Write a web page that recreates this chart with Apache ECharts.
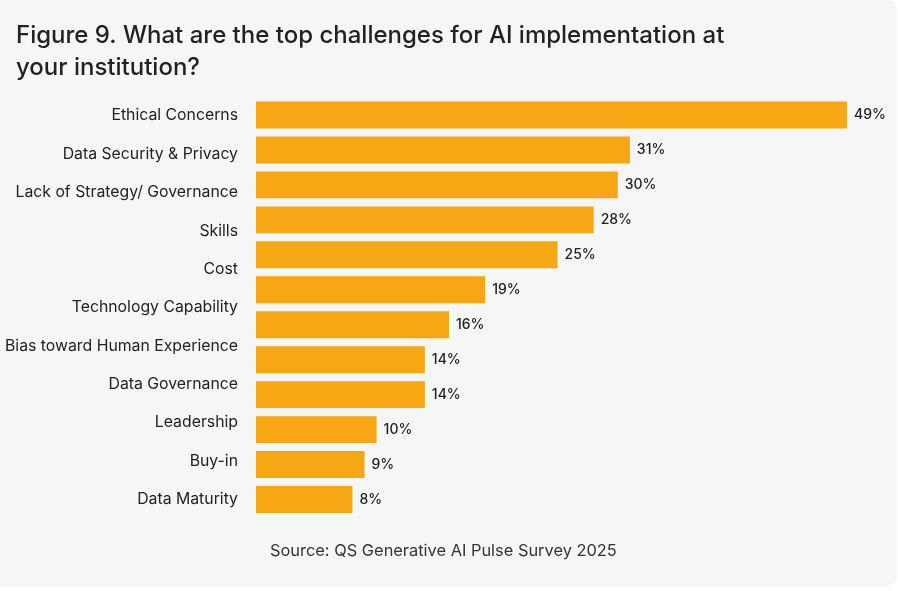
<!DOCTYPE html>
<html>
<head>
<meta charset="utf-8">
<script src="https://cdn.jsdelivr.net/npm/echarts@6/dist/echarts.min.js"></script>
<style>
  html, body { margin: 0; padding: 0; background: #ffffff; }
  #chart {
    width: 897px;
    height: 586px;
    background: #f5f7f7;
    border-radius: 0 10px 10px 0;
  }
</style>
</head>
<body>
<div id="chart"></div>
<script>
// the source figure shows 12 bars but only 11 category labels
const labels = [
  'Ethical Concerns',
  'Data Security & Privacy',
  'Lack of Strategy/ Governance',
  'Skills',
  'Cost',
  'Technology Capability',
  'Bias toward Human Experience',
  'Data Governance',
  'Leadership',
  'Buy-in',
  'Data Maturity'
];
const values = [49, 31, 30, 28, 25, 19, 16, 14, 14, 10, 9, 8];
const barSlots = values.map((v, i) => 'bar' + (i + 1));

const titleText = 'Figure 9. What are the top challenges for AI implementation at\nyour institution?';
const sourceText = 'Source: QS Generative AI Pulse Survey 2025';

const font = 'Inter, "Noto Sans", sans-serif';

const chart = echarts.init(document.getElementById('chart'), null, { renderer: 'canvas' });

chart.setOption({
  backgroundColor: 'transparent',
  animation: false,
  textStyle: { fontFamily: font },
  title: [
    {
      text: titleText,
      left: 16,
      top: 20,
      padding: 0,
      textStyle: {
        fontFamily: font,
        fontSize: 24,
        fontWeight: 500,
        lineHeight: 32,
        color: '#222222'
      }
    },
    {
      text: sourceText,
      left: 270,
      top: 541,
      padding: 0,
      textStyle: {
        fontFamily: font,
        fontSize: 16.4,
        lineHeight: 20,
        fontWeight: 400,
        color: '#333333'
      }
    }
  ],
  grid: [
    { left: 256, top: 97.5, width: 603, height: 419.5 },
    { left: 256, top: 115.7, width: 603, height: 383.5 }
  ],
  xAxis: [
    { type: 'value', gridIndex: 0, min: 0, max: 50, show: false },
    { type: 'value', gridIndex: 1, min: 0, max: 50, show: false }
  ],
  yAxis: [
    {
      type: 'category',
      gridIndex: 0,
      data: barSlots,
      inverse: true,
      axisLine: { show: false },
      axisTick: { show: false },
      axisLabel: { show: false },
      splitLine: { show: false }
    },
    {
      type: 'category',
      gridIndex: 1,
      data: labels,
      inverse: true,
      boundaryGap: false,
      axisLine: { show: false },
      axisTick: { show: false },
      splitLine: { show: false },
      axisLabel: {
        margin: 18,
        fontFamily: font,
        fontSize: 15.8,
        color: '#222222'
      }
    }
  ],
  series: [
    {
      type: 'bar',
      xAxisIndex: 0,
      yAxisIndex: 0,
      data: values,
      barCategoryGap: '23%',
      itemStyle: { color: '#f6a713' },
      label: {
        show: true,
        position: 'right',
        distance: 7,
        formatter: '{c}%',
        fontFamily: font,
        fontSize: 14,
        fontWeight: 500,
        color: '#222222'
      }
    }
  ]
});
</script>
</body>
</html>
